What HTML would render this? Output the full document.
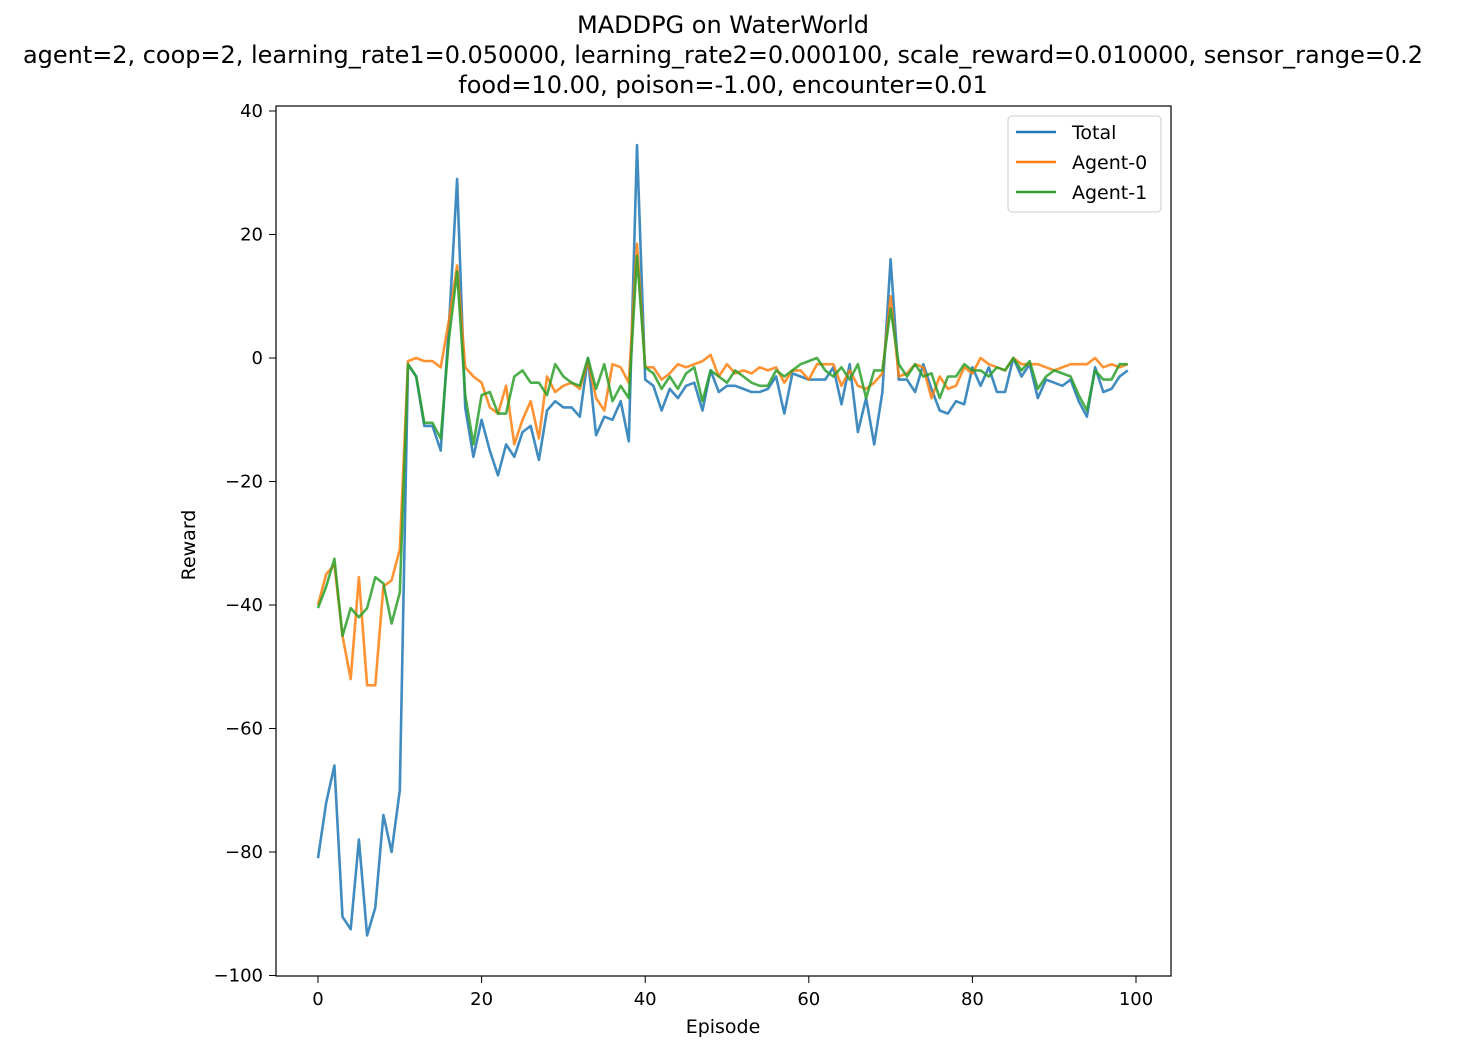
<!DOCTYPE html>
<html><head><meta charset="utf-8"><style>
body{margin:0;background:#fff;}
svg{display:block;font-family:"DejaVu Sans","Liberation Sans",sans-serif;}
</style></head><body>
<svg id="chart" width="1472" height="1058">
<text x="723" y="33" text-anchor="middle" font-size="24">MADDPG on WaterWorld</text>
<text x="723" y="63" text-anchor="middle" font-size="24" textLength="1400" lengthAdjust="spacingAndGlyphs">agent=2, coop=2, learning_rate1=0.050000, learning_rate2=0.000100, scale_reward=0.010000, sensor_range=0.2</text>
<text x="723" y="93" text-anchor="middle" font-size="24">food=10.00, poison=-1.00, encounter=0.01</text>
<g id="series"></g>
<rect x="276" y="106" width="895" height="870" fill="none" stroke="#000" stroke-width="1.2"/>
<g id="ticks"></g>
<text x="723" y="1033" text-anchor="middle" font-size="19">Episode</text>
<text x="195" y="545" text-anchor="middle" font-size="19" transform="rotate(-90 195 545)">Reward</text>
<g>
<rect x="1008" y="116" width="153" height="96" rx="4" fill="#fff" fill-opacity="0.8" stroke="#ccc"/>
<line x1="1016" y1="132" x2="1056" y2="132" stroke="#1f77b4" stroke-width="2.5"/>
<text x="1072" y="139" font-size="19">Total</text>
<line x1="1016" y1="162" x2="1056" y2="162" stroke="#ff7f0e" stroke-width="2.5"/>
<text x="1072" y="169" font-size="19">Agent-0</text>
<line x1="1016" y1="192" x2="1056" y2="192" stroke="#2ca02c" stroke-width="2.5"/>
<text x="1072" y="199" font-size="19">Agent-1</text>
</g>
</svg>
<script>
const xTicks=[0,20,40,60,80,100];
const yTicks=[40,20,0,-20,-40,-60,-80,-100];
const yTickLabels=["40","20","0","\u221220","\u221240","\u221260","\u221280","\u2212100"];
const total=[-81,-72,-66,-90.5,-92.5,-78,-93.5,-89,-74,-80,-70,-1,-3,-11,-11,-15,5,29,-8,-16,-10,-15,-19,-14,-16,-12,-11,-16.5,-8.5,-7,-8,-8,-9.5,0,-12.5,-9.5,-10,-7,-13.5,34.5,-3.5,-4.5,-8.5,-5,-6.5,-4.5,-4,-8.5,-2,-5.5,-4.5,-4.5,-5,-5.5,-5.5,-5,-3,-9,-2.5,-3,-3.5,-3.5,-3.5,-1.5,-7.5,-1,-12,-6.5,-14,-5.5,16,-3.5,-3.5,-5.5,-1,-5,-8.5,-9,-7,-7.5,-1.5,-4.5,-1.5,-5.5,-5.5,0,-3,-1,-6.5,-3.5,-4,-4.5,-3.5,-7,-9.5,-1.5,-5.5,-5,-3,-2];
const agent0=[-40,-35,-33.5,-45,-52,-35.5,-53,-53,-37,-36,-31,-0.5,0,-0.5,-0.5,-1.5,6,15,-1.5,-3,-4,-8,-9,-4.5,-14,-10,-7,-13,-3,-5.5,-4.5,-4,-5,-0.5,-6.5,-8.5,-1,-1.5,-4,18.5,-1.5,-1.5,-3.5,-2.5,-1,-1.5,-1,-0.5,0.5,-3,-1,-2.5,-2,-2.5,-1.5,-2,-1.5,-4,-2,-2,-3.5,-1,-1,-1,-4.5,-2,-4.5,-5,-4,-2.5,10,-3,-2.5,-1,-1.5,-6.5,-3,-5,-4.5,-1.5,-2.5,0,-1,-1.5,-2,0,-1,-1,-1,-1.5,-2,-1.5,-1,-1,-1,0,-1.5,-1,-1.5,-1];
const agent1=[-40.5,-37,-32.5,-45,-40.5,-42,-40.5,-35.5,-36.5,-43,-38,-1,-3,-10.5,-10.5,-13,3,14,-6,-14,-6,-5.5,-9,-9,-3,-2,-4,-4,-6,-1,-3,-4,-4.5,0,-5,-1,-7,-4.5,-6.5,16.5,-1.5,-2.5,-5,-3,-5,-2.5,-1.5,-7,-2,-3,-4,-2,-3,-4,-4.5,-4.5,-2,-3,-2,-1,-0.5,0,-2,-3,-1.5,-3.5,-1,-6.5,-2,-2,8,-1,-3,-1,-3,-2.5,-6.5,-3,-3,-1,-2,-2,-3,-1.5,-2,0,-2,-0.5,-5,-3,-2,-2.5,-3,-6,-8.5,-2,-3.5,-3.5,-1,-1];
const NS='http://www.w3.org/2000/svg';
function xs(v){return 318+v*8.18;}
function ys(v){return 358-v*6.175;}
const tg=document.getElementById('ticks');
xTicks.forEach(t=>{
  const l=document.createElementNS(NS,'line');
  l.setAttribute('x1',xs(t));l.setAttribute('x2',xs(t));l.setAttribute('y1',976);l.setAttribute('y2',983);l.setAttribute('stroke','#000');
  
  
  tg.appendChild(l);
  const tx=document.createElementNS(NS,'text');
  tx.setAttribute('x',xs(t));tx.setAttribute('y',1005);tx.setAttribute('text-anchor','middle');tx.setAttribute('font-size','18');tx.textContent=t;
  
  
  tg.appendChild(tx);
});
yTicks.forEach((t,i)=>{
  const l=document.createElementNS(NS,'line');
  l.setAttribute('x1',269);l.setAttribute('x2',276);l.setAttribute('y1',ys(t));l.setAttribute('y2',ys(t));l.setAttribute('stroke','#000');
  
  
  tg.appendChild(l);
  const tx=document.createElementNS(NS,'text');
  tx.setAttribute('x',263);tx.setAttribute('y',ys(t)+6);tx.setAttribute('text-anchor','end');tx.setAttribute('font-size','18');tx.textContent=yTickLabels[i];
  
  
  tg.appendChild(tx);
});
const sg=document.getElementById('series');
[[total,'#1f77b4','line-total'],[agent0,'#ff7f0e','line-agent-0'],[agent1,'#2ca02c','line-agent-1']].forEach(s=>{
  const p=document.createElementNS(NS,'polyline');
  p.setAttribute('points',s[0].map((v,i)=>xs(i).toFixed(1)+','+ys(v).toFixed(1)).join(' '));
  p.setAttribute('fill','none');p.setAttribute('stroke',s[1]);p.setAttribute('stroke-width','2.6');p.setAttribute('stroke-opacity','0.85');p.setAttribute('stroke-linejoin','round');
  
  
  sg.appendChild(p);
});
</script>
</body></html>
